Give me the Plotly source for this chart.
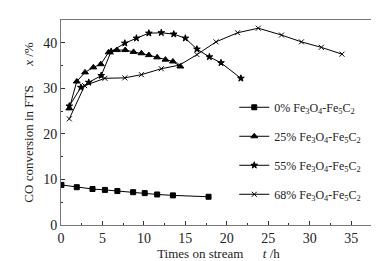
import plotly.graph_objects as go

# 0% Fe3O4-Fe5C2
t0 = [0.05, 1.9, 3.8, 5.3, 6.8, 8.7, 10.1, 11.6, 13.5, 17.8]
y0 = [8.8, 8.3, 7.9, 7.7, 7.45, 7.2, 7.0, 6.7, 6.5, 6.2]
# 25%
t25 = [1.0, 1.9, 2.9, 3.9, 4.8, 5.75, 6.75, 7.75, 8.75, 9.7, 10.6, 11.6, 12.6, 13.5, 14.4]
y25 = [25.6, 31.5, 33.5, 34.6, 35.3, 37.9, 38.4, 38.4, 38.0, 37.7, 37.3, 36.8, 36.3, 35.9, 34.8]
# 55%
t55 = [1.0, 2.4, 3.35, 4.85, 6.05, 7.7, 9.1, 10.6, 12.1, 13.6, 15.0, 16.4, 17.9, 19.3, 21.7]
y55 = [26.1, 30.2, 31.3, 32.8, 38.1, 39.9, 41.0, 42.1, 42.2, 41.9, 41.0, 38.6, 36.9, 35.6, 32.2]
# 68%
t68 = [1.0, 2.85, 5.3, 7.7, 9.7, 12.1, 14.3, 16.4, 18.7, 21.3, 23.8, 26.6, 29.0, 31.4, 33.9]
y68 = [23.3, 30.6, 32.2, 32.3, 33.0, 34.3, 35.1, 37.4, 40.2, 42.2, 43.2, 41.7, 40.2, 39.0, 37.5]

names = ["0% Fe<sub>3</sub>O<sub>4</sub>-Fe<sub>5</sub>C<sub>2</sub>",
         "25% Fe<sub>3</sub>O<sub>4</sub>-Fe<sub>5</sub>C<sub>2</sub>",
         "55% Fe<sub>3</sub>O<sub>4</sub>-Fe<sub>5</sub>C<sub>2</sub>",
         "68% Fe<sub>3</sub>O<sub>4</sub>-Fe<sub>5</sub>C<sub>2</sub>"]

FONT = "Liberation Serif, Times New Roman, serif"
fig = go.Figure()
series = [(t0, y0, "square", 5), (t25, y25, "triangle-up", 6), (t55, y55, "star", 5), (t68, y68, "x-thin", 5)]
for i, ((tx, ty, sym, sz), nm) in enumerate(zip(series, names)):
    fig.add_trace(go.Scatter(
        x=tx, y=ty, mode="lines+markers", name=nm, legendgroup=str(i),
        line=dict(color="black", width=1),
        marker=dict(symbol=sym, size=sz, color="black",
                    line=dict(color="black", width=1)),
    ))

axis_common = dict(
    showline=True, linecolor="#777", linewidth=1, mirror=True,
    ticks="inside", ticklen=4, tickcolor="#333", showgrid=False, zeroline=False,
    tickfont=dict(family=FONT, size=14, color="#222"),
)
fig.update_xaxes(range=[0, 38], tick0=0, dtick=5,
                 minor=dict(ticks="inside", ticklen=2, dtick=2.5, tickcolor="#333"),
                 title=dict(text="Times on stream      <i>t</i> /h",
                            font=dict(family=FONT, size=13, color="#222"), standoff=4),
                 **axis_common)
fig.update_yaxes(range=[0, 45], tick0=0, dtick=10,
                 minor=dict(ticks="inside", ticklen=2, dtick=5, tickcolor="#333"),
                 title=dict(text="CO conversion in FTS      <i>x</i> /%",
                            font=dict(family=FONT, size=13, color="#222"), standoff=6),
                 **axis_common)
fig.update_layout(
    width=379, height=261,
    margin=dict(l=53, r=10, t=12, b=42),
    paper_bgcolor="white", plot_bgcolor="white",
    font=dict(family=FONT, size=12, color="#222"),
    legend=dict(x=0.55, y=0.645, xanchor="left", yanchor="top",
                bgcolor="rgba(0,0,0,0)", borderwidth=0,
                traceorder="grouped", tracegroupgap=10,
                font=dict(family=FONT, size=12, color="#222"),
                itemwidth=30),
)
fig.write_html("out.html")
